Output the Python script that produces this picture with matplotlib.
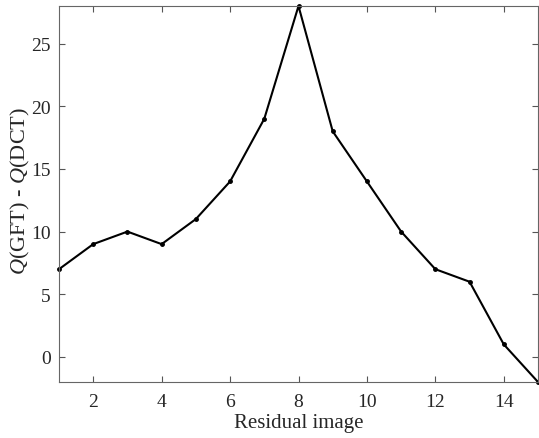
import matplotlib
matplotlib.use("Agg")
import matplotlib.pyplot as plt

x_vals = [1, 2, 3, 4, 5, 6, 7, 8, 9, 10, 11, 12, 13, 14, 15]
y_vals = [7, 9, 10, 9, 11, 14, 19, 28, 18, 14, 10, 7, 6, 1, -2]
x_ticks = [2, 4, 6, 8, 10, 12, 14]
y_ticks = [0, 5, 10, 15, 20, 25]

plt.rcParams['font.family'] = ['Liberation Serif', 'DejaVu Serif']
plt.rcParams['mathtext.fontset'] = 'custom'
plt.rcParams['mathtext.it'] = 'Liberation Serif:italic'
plt.rcParams['mathtext.rm'] = 'Liberation Serif'

fig = plt.figure(figsize=(5.39, 4.39), dpi=100)
ax = fig.add_axes([59/539, 56/439, (538-59)/539, (383-7)/439])
ax.plot(x_vals, y_vals, color='black', linewidth=1.5, marker='o', markersize=2.5, clip_on=False)
ax.set_xlim(1, 15)
ax.set_ylim(-2, 28)
ax.set_xticks(x_ticks)
ax.set_yticks(y_ticks)
ax.tick_params(direction='in', length=4, width=0.8, colors='#555555', labelcolor='#262626', labelsize=14, top=True, right=True)
ax.tick_params(axis='x', pad=8)
ax.tick_params(axis='y', pad=6)
for s in ax.spines.values():
    s.set_color('#666666')
    s.set_linewidth(0.8)
ax.set_xlabel('Residual image', fontsize=15, color='#262626', labelpad=2)
ax.set_ylabel(r'$Q$(GFT) - $Q$(DCT)', fontsize=16, color='#262626')
ax.yaxis.set_label_coords(-0.056, 0.51)
fig.savefig('out.png', dpi=100)
